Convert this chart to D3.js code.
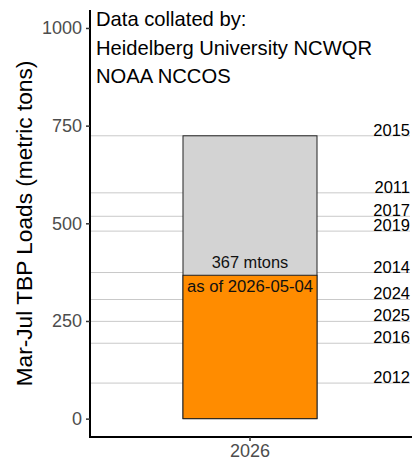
<!DOCTYPE html>
<html><head><meta charset="utf-8">
<script src="https://cdn.jsdelivr.net/npm/d3@7"></script>
<style>body{margin:0;background:#fff}svg{display:block;font-family:"Liberation Sans",Arial,sans-serif}</style>
</head><body><svg id="c" width="412" height="462"></svg>
<script>
const categories = ["2026"];
const currentValue = [367];
const maxValue = [724];
const refYears = ["2015","2011","2017","2019","2014","2024","2025","2016","2012"];
const refValues = [724, 578, 518, 480, 374, 305, 249, 193, 91];
const yTicks = [0, 250, 500, 750, 1000];
const creditLines = ["Data collated by:", "Heidelberg University NCWQR", "NOAA NCCOS"];
const barLabel = "367 mtons";
const dateLabel = "as of 2026-05-04";
const yTitle = "Mar-Jul TBP Loads (metric tons)";

const svg = d3.select("#c");
const L = 90, R = 410, T = 10, B = 437;
const y = d3.scaleLinear().domain([-47, 1046]).range([B, T]);
const x = d3.scaleBand().domain(categories).range([L, R]).paddingInner(0).paddingOuter(0.694);

// reference lines
svg.append("g").selectAll("line").data(refValues).join("line")
  .attr("x1", L).attr("x2", R)
  .attr("y1", d => y(d)).attr("y2", d => y(d))
  .attr("stroke", "#c9c9c9").attr("stroke-width", 1);

// bars
svg.append("g").selectAll("rect.max").data(categories).join("rect")
  .attr("x", d => x(d)).attr("width", x.bandwidth())
  .attr("y", (d,i) => y(maxValue[i])).attr("height", (d,i) => y(0) - y(maxValue[i]))
  .attr("fill", "#d3d3d3").attr("stroke", "#222").attr("stroke-width", 1);
svg.append("g").selectAll("rect.cur").data(categories).join("rect")
  .attr("x", d => x(d)).attr("width", x.bandwidth())
  .attr("y", (d,i) => y(currentValue[i])).attr("height", (d,i) => y(0) - y(currentValue[i]))
  .attr("fill", "#ff8c00").attr("stroke", "#222").attr("stroke-width", 1);

// year labels
svg.append("g").selectAll("text").data(refYears).join("text")
  .attr("x", R).attr("y", (d,i) => y(refValues[i]))
  .attr("text-anchor", "end").attr("font-size", 16.5).attr("fill", "#000")
  .text(d => d);

// bar labels
categories.forEach((c,i) => {
  svg.append("text").attr("x", x(c) + x.bandwidth()/2).attr("y", y(currentValue[i]) - 7.5)
    .attr("text-anchor","middle").attr("font-size",16.4).attr("fill","#111").text(barLabel);
  svg.append("text").attr("x", x(c) + x.bandwidth()/2).attr("y", y(currentValue[i]) + 16.5)
    .attr("text-anchor","middle").attr("font-size",16.7).attr("fill","#111").text(dateLabel);
});

// axes
const ya = svg.append("g").attr("transform", `translate(${L},0)`)
  .call(d3.axisLeft(y).tickValues(yTicks).tickFormat(d3.format("d")).tickSize(4).tickPadding(4));
ya.select(".domain").attr("stroke","#000").attr("stroke-width",2).attr("d", `M0,${T}V${B}`);
ya.selectAll(".tick line").attr("stroke","#333").attr("stroke-width",1.5);
ya.selectAll(".tick text").attr("fill","#4d4d4d").attr("font-size",18).attr("font-family","Liberation Sans, Arial, sans-serif");

const xa = svg.append("g").attr("transform", `translate(0,${B})`)
  .call(d3.axisBottom(x).tickSize(4).tickPadding(3));
xa.select(".domain").attr("stroke","#000").attr("stroke-width",2).attr("d", `M${L-1},0H${R+2}`);
xa.selectAll(".tick line").attr("stroke","#333").attr("stroke-width",1.5);
xa.selectAll(".tick text").attr("fill","#4d4d4d").attr("font-size",18).attr("font-family","Liberation Sans, Arial, sans-serif");

// y title
svg.append("text").attr("transform", `translate(32,${(T+B)/2}) rotate(-90)`)
  .attr("text-anchor","middle").attr("font-size",22.7).attr("fill","#000").text(yTitle);

// credits
svg.append("g").selectAll("text").data(creditLines).join("text")
  .attr("x", 96).attr("y", (d,i) => 26 + i*28.5)
  .attr("font-size", 20.2).attr("fill","#000").text(d => d);
</script></body></html>
